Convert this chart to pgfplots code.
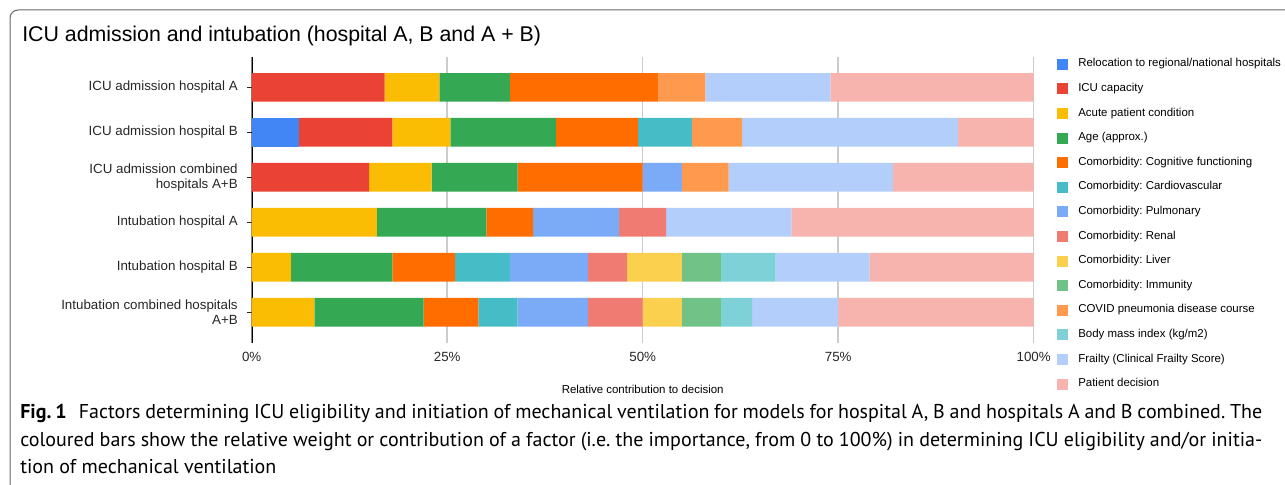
\documentclass[border=0pt]{standalone}
\usepackage{fontspec}
\setmainfont{Liberation Sans}
\newfontfamily\capfont{PT Sans}
\usepackage{pgfplots}
\pgfplotsset{compat=1.18}
\usepackage{pgfplotstable}
\definecolor{cReloc}{HTML}{4285F4}
\definecolor{cIcu}{HTML}{EA4335}
\definecolor{cAcute}{HTML}{FBBC04}
\definecolor{cAge}{HTML}{34A853}
\definecolor{cCogn}{HTML}{FF6D01}
\definecolor{cCardio}{HTML}{46BDC6}
\definecolor{cPulm}{HTML}{7BAAF7}
\definecolor{cRenal}{HTML}{F07B72}
\definecolor{cLiver}{HTML}{FCD04F}
\definecolor{cImmun}{HTML}{71C287}
\definecolor{cCovid}{HTML}{FF994D}
\definecolor{cBmi}{HTML}{7ED1D7}
\definecolor{cFrail}{HTML}{B3CEFB}
\definecolor{cPatient}{HTML}{F7B4AE}
\definecolor{gridgray}{HTML}{CCCCCC}
\definecolor{framegray}{HTML}{666666}
\pgfplotsset{layers/mylayers/.define layer set={axis background,axis grid,main,axis ticks,axis lines,axis tick labels,axis descriptions,axis foreground}{}}
\pgfplotstableread{
y reloc icucap acute age cogn cardio pulm renal liver immun covid bmi frailty patient
5 0 17 7 9 19 0 0 0 0 0 6 0 16 26
4 6 12 7.4 13.5 10.5 6.9 0 0 0 0 6.4 0 27.6 9.7
3 0 15 8 11 16 0 5 0 0 0 6 0 21 18
2 0 0 16 14 6 0 11 6 0 0 0 0 16 31
1 0 0 5 13 8 7 10 5 7 5 0 7 12 21
0 0 0 8 14 7 5 9 7 5 5 0 4 11 25
}\datatable
\begin{document}
\frenchspacing
\begin{tikzpicture}
\draw[framegray, line width=0.75pt, rounded corners=6pt] ({10*0.75pt},-5pt) -- ({10*0.75pt},{475*0.75pt}) -- ({1295*0.75pt},{475*0.75pt});
\node[anchor=west, inner sep=0pt, font=\fontsize{16}{19}\selectfont] at ({22*0.75pt},{(485-36)*0.75pt}) {ICU admission and intubation (hospital A, B and A + B)};
\coordinate (legpos) at ({1057*0.75pt},{(485-58.5)*0.75pt});
\begin{axis}[
  set layers=mylayers,
  at={({251.7*0.75pt},{(485-342.7)*0.75pt})}, anchor=south west,
  scale only axis, width=586.5pt, height=214.3pt,
  xbar stacked, bar width=21.5pt,
  xmin=0, xmax=100, ymin=-0.675, ymax=5.675,
  xtick={0,25,50,75,100}, xticklabels={0\%,25\%,50\%,75\%,100\%},
  xmajorgrids, grid style={color=gridgray, line width=1.1pt},
  ytick={0,1,2,3,4,5},
  yticklabels={{Intubation combined hospitals\\A+B},{Intubation hospital B},{Intubation hospital A},{ICU admission combined\\hospitals A+B},{ICU admission hospital B},{ICU admission hospital A}},
  axis line style={draw=none},
  xtick style={draw=none},
  ytick style={color=black!85, line width=1.1pt},
  tick align=center, ytick pos=left, major tick length=7pt,
  yticklabel style={align=right, inner sep=0pt, xshift=-6.8pt, font=\fontsize{10}{11}\selectfont, text=black!85},
  xticklabel style={inner sep=0pt, anchor=center, yshift=-7.5pt, font=\fontsize{10}{12}\selectfont, text=black!85},
  xlabel={Relative contribution to decision},
  xlabel style={at={(axis description cs:0.5,0)}, anchor=center, yshift=-34.7pt, inner sep=0pt, font=\fontsize{8.6}{10}\selectfont},
  legend cell align=left,
  legend image code/.code={\fill[#1] (0pt,-4.125pt) rectangle (8.25pt,4.125pt);},
  legend style={at={(legpos)}, anchor=north west, draw=none, fill=none, inner sep=0pt, row sep=10.2pt, column sep=7.5pt, font=\fontsize{8.6}{10}\selectfont, nodes={inner sep=0pt, text height=6.125pt, text depth=2.125pt}},
]
\addplot[fill=cReloc, draw=none] table[x=reloc, y=y]{\datatable};
\addlegendentry{Relocation to regional/national hospitals}
\addplot[fill=cIcu, draw=none] table[x=icucap, y=y]{\datatable};
\addlegendentry{ICU capacity}
\addplot[fill=cAcute, draw=none] table[x=acute, y=y]{\datatable};
\addlegendentry{Acute patient condition}
\addplot[fill=cAge, draw=none] table[x=age, y=y]{\datatable};
\addlegendentry{Age (approx.)}
\addplot[fill=cCogn, draw=none] table[x=cogn, y=y]{\datatable};
\addlegendentry{Comorbidity: Cognitive functioning}
\addplot[fill=cCardio, draw=none] table[x=cardio, y=y]{\datatable};
\addlegendentry{Comorbidity: Cardiovascular}
\addplot[fill=cPulm, draw=none] table[x=pulm, y=y]{\datatable};
\addlegendentry{Comorbidity: Pulmonary}
\addplot[fill=cRenal, draw=none] table[x=renal, y=y]{\datatable};
\addlegendentry{Comorbidity: Renal}
\addplot[fill=cLiver, draw=none] table[x=liver, y=y]{\datatable};
\addlegendentry{Comorbidity: Liver}
\addplot[fill=cImmun, draw=none] table[x=immun, y=y]{\datatable};
\addlegendentry{Comorbidity: Immunity}
\addplot[fill=cCovid, draw=none] table[x=covid, y=y]{\datatable};
\addlegendentry{COVID pneumonia disease course}
\addplot[fill=cBmi, draw=none] table[x=bmi, y=y]{\datatable};
\addlegendentry{Body mass index (kg/m2)}
\addplot[fill=cFrail, draw=none] table[x=frailty, y=y]{\datatable};
\addlegendentry{Frailty (Clinical Frailty Score)}
\addplot[fill=cPatient, draw=none] table[x=patient, y=y]{\datatable};
\addlegendentry{Patient decision}
\draw[black, line width=1.5pt] (axis cs:0,-0.675) -- (axis cs:0,5.675);
\end{axis}
\node[anchor=base west, inner sep=0pt] at ({20*0.75pt},{(485-419)*0.75pt}) {\capfont\fontsize{15}{20}\selectfont\hbox to 931.5pt{\textbf{Fig.\hspace{0.2em}1}\hspace{0.6em}Factors determining ICU eligibility and initiation of mechanical ventilation for models for hospital A, B and hospitals A and B combined. The}};
\node[anchor=base west, inner sep=0pt] at ({20*0.75pt},{(485-447)*0.75pt}) {\capfont\fontsize{15}{20}\selectfont\hbox to 931.5pt{coloured bars show the relative weight or contribution of a factor (i.e. the importance, from 0 to 100\%) in determining ICU eligibility and/or initia-}};
\node[anchor=base west, inner sep=0pt] at ({20*0.75pt},{(485-474)*0.75pt}) {\capfont\fontsize{15}{20}\selectfont tion of mechanical ventilation};
\pgfresetboundingbox
\useasboundingbox (0,0) rectangle (963.75pt,363.75pt);
\end{tikzpicture}
\end{document}
